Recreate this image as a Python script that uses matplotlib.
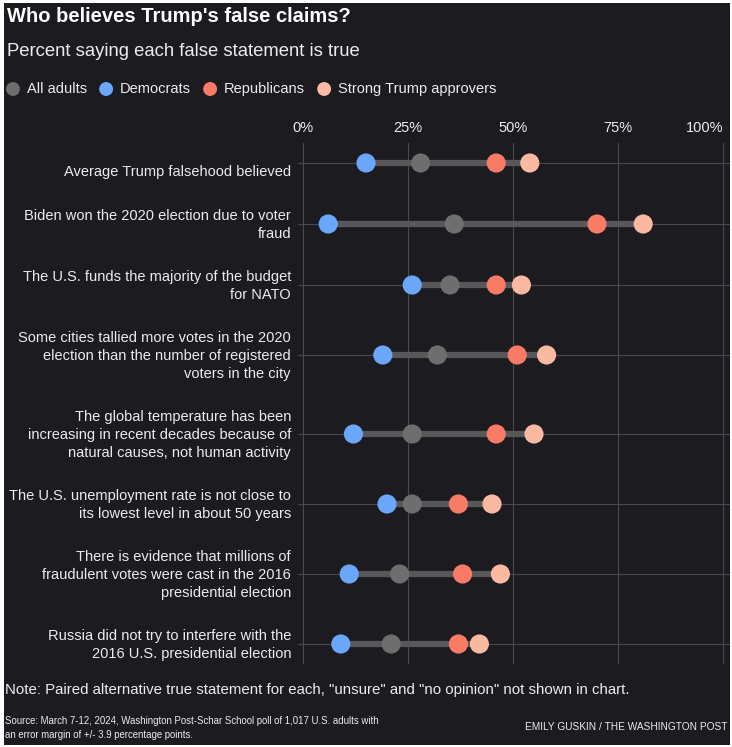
import matplotlib
matplotlib.use("Agg")
import numpy as np
import matplotlib.pyplot as plt
import matplotlib.transforms as mtransforms
from matplotlib.patches import Rectangle

# 数据（百分比，读自原图）
statements = [
    "Average Trump falsehood believed",
    "Biden won the 2020 election due to voter\nfraud",
    "The U.S. funds the majority of the budget\nfor NATO",
    "Some cities tallied more votes in the 2020\nelection than the number of registered\nvoters in the city",
    "The global temperature has been\nincreasing in recent decades because of\nnatural causes, not human activity",
    "The U.S. unemployment rate is not close to\nits lowest level in about 50 years",
    "There is evidence that millions of\nfraudulent votes were cast in the 2016\npresidential election",
    "Russia did not try to interfere with the\n2016 U.S. presidential election",
]
all_adults = [28, 36, 35, 32, 26, 26, 23, 21]
democrats = [15, 6, 26, 19, 12, 20, 11, 9]
republicans = [46, 70, 46, 51, 46, 37, 38, 37]
strong_trump = [54, 81, 52, 58, 55, 45, 47, 42]

series_names = ["All adults", "Democrats", "Republicans", "Strong Trump approvers"]
series_colors = ["#6e6e6e", "#6aa6fa", "#f97b65", "#fbb9a1"]
tick_values = [0, 25, 50, 75, 100]
tick_labels = ["0%", "25%", "50%", "75%", "100%"]

BG = "#1c1b20"
TXT = "#ececec"
GRID = "#4a4a4e"
FONT = ["Liberation Sans", "DejaVu Sans"]
NARROW = ["Liberation Sans Narrow", "Liberation Sans", "DejaVu Sans"]
plt.rcParams['font.family'] = FONT

W, H = 732, 747
fig = plt.figure(figsize=(W / 100, H / 100), dpi=100, facecolor="white")

# 背景层（像素坐标）
bg = fig.add_axes([0, 0, 1, 1])
bg.set_xlim(0, W)
bg.set_ylim(H, 0)
bg.axis("off")
bg.add_patch(Rectangle((4, 3), 726, 742, color=BG, lw=0, zorder=0))

# 行高按标签行数决定
n_lines = [s.count("\n") + 1 for s in statements]
row_h = {1: 61, 2: 61, 3: 79}
centers = [20.0]
for i in range(1, len(statements)):
    centers.append(centers[-1] + (row_h[n_lines[i - 1]] + row_h[n_lines[i]]) / 2)
centers = np.array(centers)

ax_top, ax_bot, ax_left, ax_right = 143, 664, 298, 730
ax = fig.add_axes([ax_left / W, 1 - ax_bot / H, (ax_right - ax_left) / W, (ax_bot - ax_top) / H])
ax.set_facecolor("none")
ax.set_xlim((ax_left - 303) / 4.2, (ax_right - 303) / 4.2)
ax.set_ylim(centers[-1] + 20, 0)
for sp in ax.spines.values():
    sp.set_visible(False)

ax.set_xticks(tick_values)
ax.set_xticklabels(tick_labels)
ax.xaxis.set_ticks_position("top")
ax.tick_params(axis="x", length=0, pad=6, labelsize=10.5, colors=TXT)
ax.get_xticklabels()[-1].set_horizontalalignment("right")
ax.set_yticks([])
for v in tick_values:
    ax.axvline(v, color=GRID, lw=0.8, zorder=1)
ax.hlines(centers, *ax.get_xlim(), color=GRID, lw=0.8, zorder=1)

data = np.array([all_adults, democrats, republicans, strong_trump])
ax.hlines(centers, data.min(axis=0), data.max(axis=0), color="#58585b", lw=4.5, zorder=2)
for vals, col in zip(data, series_colors):
    ax.scatter(vals, centers, s=190, color=col, edgecolors="none", zorder=3)

# 左侧标签
trans = mtransforms.blended_transform_factory(fig.transFigure, ax.transData)
for s, c, n in zip(statements, centers, n_lines):
    ax.text(291 / W, c + (9 if n == 1 else 1), s, transform=trans, ha="right", va="center",
            fontsize=10.5, linespacing=1.4, color=TXT)

# 标题
fig.text(7 / W, 1 - 17 / H, "Who believes Trump's false claims?", va="center",
         fontsize=14.5, fontweight="bold", color="white")
fig.text(7 / W, 1 - 52 / H, "Percent saying each false statement is true", va="center",
         fontsize=13.3, color=TXT)

# 图例
renderer = fig.canvas.get_renderer()
x = 13
for name, col in zip(series_names, series_colors):
    bg.scatter([x], [89], s=100, color=col, edgecolors="none", zorder=3)
    t = bg.text(x + 14, 89, name, va="center", fontsize=10.5, color=TXT)
    bb = t.get_window_extent(renderer)
    x = bb.x1 + 19

# 脚注
fig.text(5 / W, 1 - 690 / H,
         'Note: Paired alternative true statement for each, "unsure" and "no opinion" not shown in chart.',
         va="center", fontsize=10.8, color=TXT, family=NARROW)
fig.text(5 / W, 1 - 728 / H,
         "Source: March 7-12, 2024, Washington Post-Schar School poll of 1,017 U.S. adults with\n"
         "an error margin of +/- 3.9 percentage points.",
         va="center", fontsize=6.9, linespacing=1.55, color=TXT, family=NARROW)
fig.text(727 / W, 1 - 727 / H, "EMILY GUSKIN / THE WASHINGTON POST", ha="right", va="center",
         fontsize=7.25, color=TXT, family=NARROW)

fig.savefig("out.png", dpi=100, facecolor="white")
